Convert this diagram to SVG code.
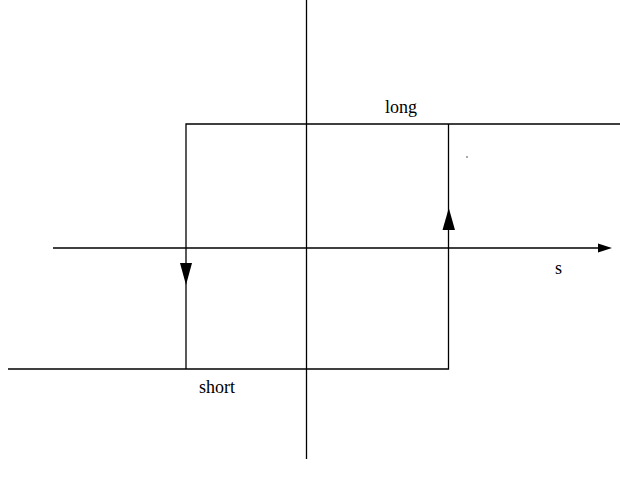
<svg xmlns="http://www.w3.org/2000/svg" width="620" height="489" viewBox="0 0 620 489">
<style>
.ln{stroke:#000;stroke-width:1.3;fill:none}
.ah{fill:#000;stroke:none}
text{font-family:"Liberation Serif","Times New Roman",serif;font-size:18px;fill:#000}
</style>
<rect width="620" height="489" fill="#fff"/>
<g id="axes">
<line class="ln" x1="306.5" y1="0" x2="306.5" y2="459"/>
<line class="ln" x1="53" y1="248" x2="600" y2="248"/>
<polygon class="ah" points="598,243.5 612,248 598,252.5"/>
<text x="555" y="274">s</text>
</g>
<g id="connectors">
<polyline class="ln" points="620,124 186,124 186,369"/>
<polyline class="ln" points="8,369 448.5,369 448.5,124"/>
<polygon class="ah" points="180,263 192,263 186,285"/>
<polygon class="ah" points="442.5,230 455,230 448.8,208"/>
<rect x="466.5" y="156" width="1" height="2" fill="#555"/>
</g>
<g id="long"><text x="385" y="113">long</text></g>
<g id="short"><text x="199" y="393">short</text></g>
</svg>
